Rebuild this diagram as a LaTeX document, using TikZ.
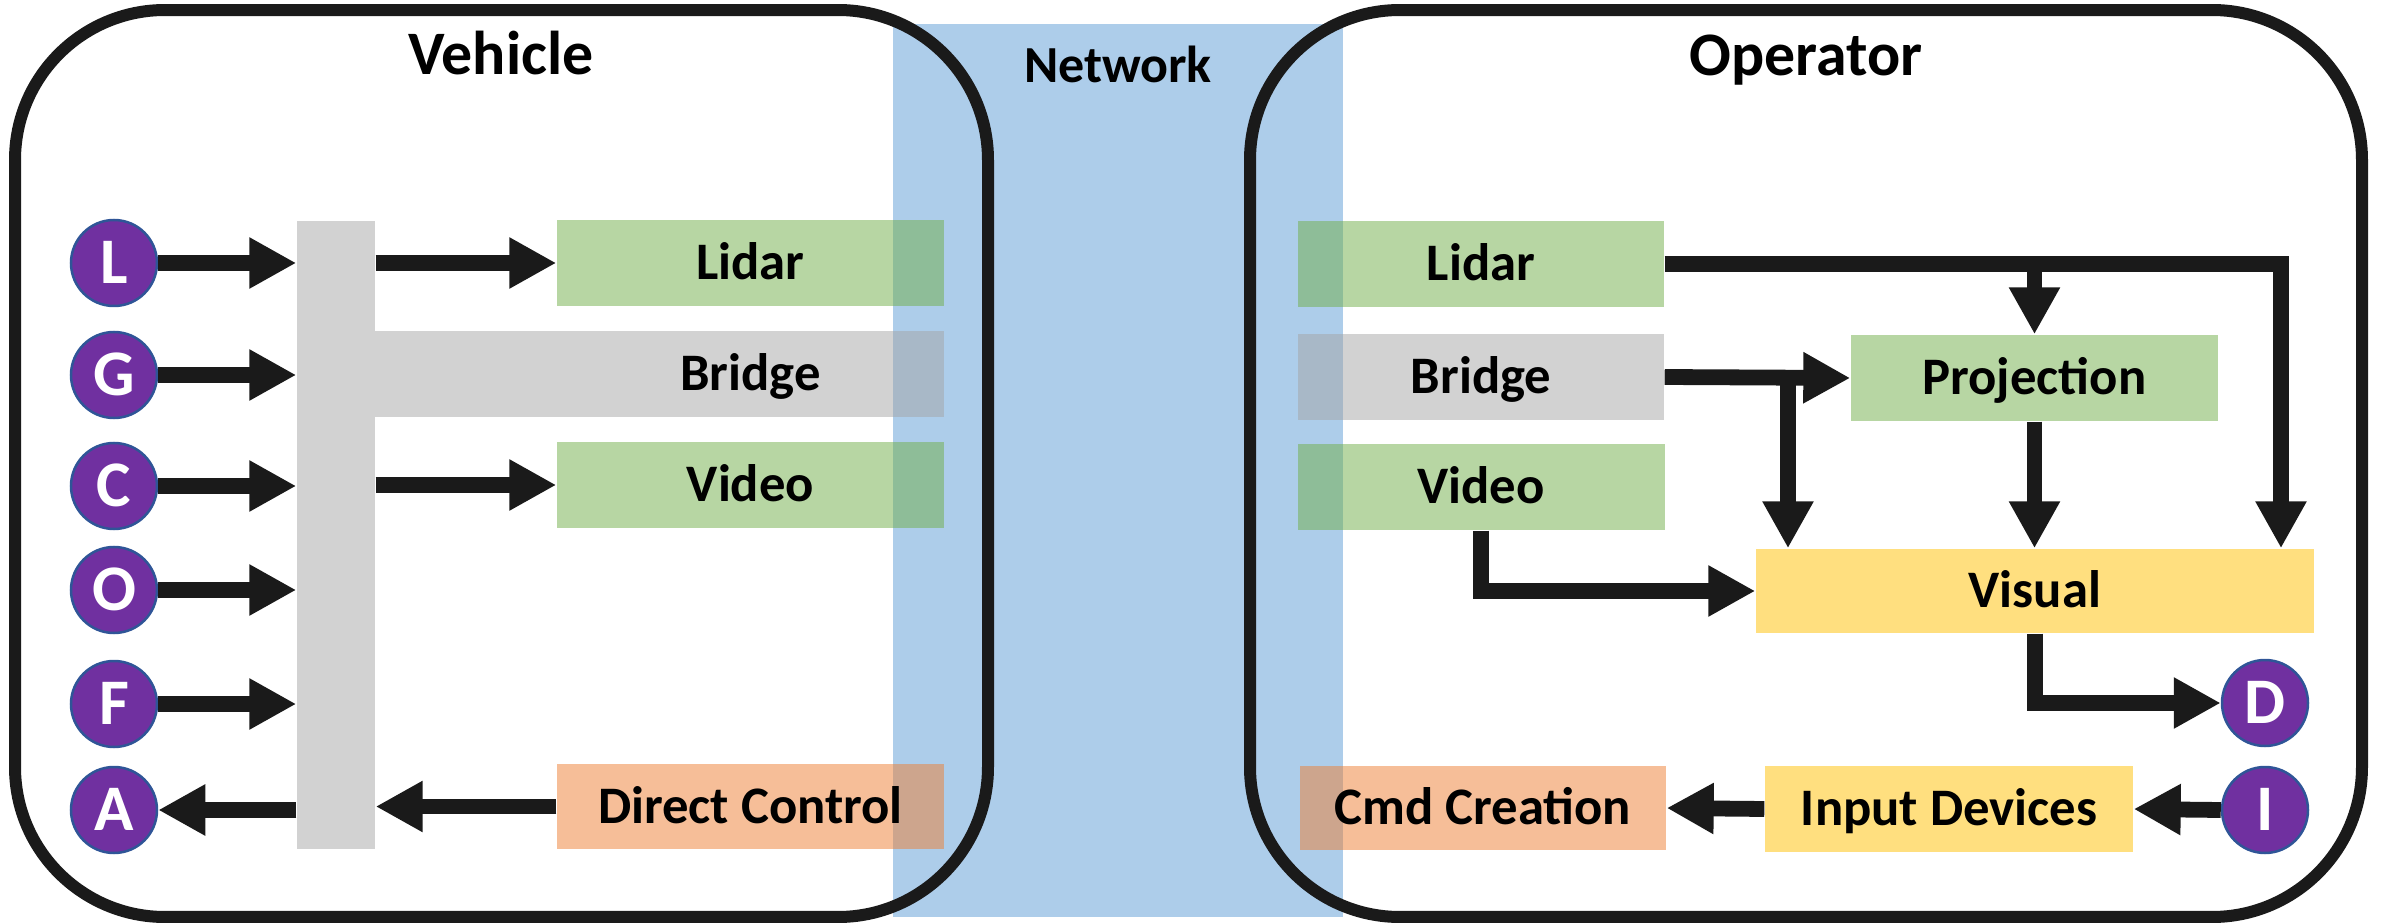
\documentclass[tikz,border=0pt]{standalone}
\usepackage{fontspec}
\setmainfont{Carlito}
\usetikzlibrary{arrows.meta}
\definecolor{ink}{HTML}{1A1A1A}
\definecolor{netblue}{HTML}{5B9BD5}
\definecolor{ogreen}{HTML}{70AD47}
\definecolor{ogray}{HTML}{A5A5A5}
\definecolor{oorange}{HTML}{ED7D31}
\definecolor{ogold}{HTML}{FFC000}
\definecolor{opurple}{HTML}{7030A0}
\definecolor{oblue}{HTML}{2F5597}
\begin{document}
\begin{tikzpicture}[x=0.1mm,y=-0.1mm,
  box/.style={rectangle, inner sep=0pt, fill opacity=0.5, text opacity=1,
    font=\bfseries\fontsize{15}{18}\selectfont, text height=9.6pt, text depth=0pt,
    minimum height=8.6mm},
  gbox/.style={box, fill=ogreen},
  graybox/.style={box, fill=ogray},
  obox/.style={box, fill=oorange},
  ybox/.style={box, fill=ogold},
  circ/.style={circle, fill=opurple, draw=oblue, line width=0.25mm, minimum size=8.6mm,
    inner sep=0pt, text=white, font=\bfseries\fontsize{18.5}{22}\selectfont,
    text height=11.8pt, text depth=0pt},
  arr/.style={draw=ink, line width=1.58mm, line join=miter,
    -{Triangle[length=4.7mm,width=4.8mm]}},
  frame/.style={rectangle, draw=ink, line width=1.2mm, rounded corners=15mm, inner sep=0pt},
  title/.style={font=\bfseries\fontsize{17.6}{21}\selectfont, anchor=base, inner sep=0pt},
  nettitle/.style={font=\bfseries\fontsize{14.8}{18}\selectfont, anchor=base, inner sep=0pt},
]
\useasboundingbox (0,0) rectangle (2381,923);

% network band
\node[rectangle, inner sep=0pt, fill=netblue, fill opacity=0.5,
  minimum width=45mm, minimum height=89.3mm] (net) at (1118,470.5) {};
\node[nettitle] (nett) at (1118,83) {Network};

% frames
\node[frame, minimum width=97.3mm, minimum height=90.7mm] (vehicle) at (501.5,463.5) {};
\node[frame, minimum width=111.2mm, minimum height=90.7mm] (operator) at (1806,463.5) {};
\node[title] (vtitle) at (501,75) {Vehicle};
\node[title] (otitle) at (1806,76) {Operator};

% ---------------- Vehicle ----------------
\node[circ] (L) at (114,263) {L};
\node[circ] (G) at (114,375) {G};
\node[circ] (C) at (114,486) {C};
\node[circ] (O) at (114,590) {O};
\node[circ] (F) at (114,704) {F};
\node[circ] (A) at (114,810) {A};

\node[graybox, minimum width=7.8mm, minimum height=62.8mm] (bar) at (336,535) {};

\node[gbox, minimum width=38.7mm] (vLidar) at (750.5,263) {Lidar};
\node[graybox, minimum width=56.9mm] (vBridge) at (659.5,374) {\hspace*{18.2mm}Bridge};
\node[gbox, minimum width=38.7mm] (vVideo) at (750.5,485) {Video};
\node[obox, minimum width=38.7mm, minimum height=8.5mm] (vDirect) at (750.5,806.5) {Direct Control};

\foreach \n in {L,G,C,O,F}{
  \draw[arr] (\n.east) -- (bar.west |- \n.east);
}
\draw[arr] (bar.west |- A.east) -- (A.east);
\draw[arr] (bar.east |- vLidar.west) -- (vLidar.west);
\draw[arr] (bar.east |- vVideo.west) -- (vVideo.west);
\draw[arr] (vDirect.west) -- (bar.east |- vDirect.west);

% ---------------- Operator ----------------
\node[gbox, minimum width=36.6mm] (oLidar) at (1481,264) {Lidar};
\node[graybox, minimum width=36.6mm] (oBridge) at (1481,377) {Bridge};
\node[gbox, minimum width=36.7mm] (oVideo) at (1481,487) {Video};
\node[gbox, minimum width=36.7mm] (proj) at (2034.5,378) {Projection};
\node[ybox, minimum width=55.8mm, minimum height=8.4mm] (visual) at (2035,591) {Visual};
\node[obox, minimum width=36.6mm, minimum height=8.4mm] (cmd) at (1483,808) {Cmd Creation};
\node[ybox, minimum width=36.8mm] (input) at (1949,809) {Input Devices};
\node[circ] (D) at (2265,703) {D};
\node[circ] (I) at (2265,810) {I};

\coordinate (lc) at (2281,264);
\coordinate (bb) at (1788,377);
\draw[arr] (oLidar.east) -- (lc) -- (lc |- visual.north);
\draw[arr] (proj.north |- oLidar.east) -- (proj.north);
\draw[arr] (oBridge.east) -- (proj.west);
\draw[arr] (bb) -- (bb |- visual.north);
\draw[arr] (proj.south) -- (visual.north -| proj.south);
\draw[arr] (oVideo.south) |- (visual.west);
\draw[arr] (visual.south) |- (D.west);
\draw[arr] (I.west) -- (input.east);
\draw[arr] (input.west) -- (cmd.east);
\end{tikzpicture}
\end{document}
